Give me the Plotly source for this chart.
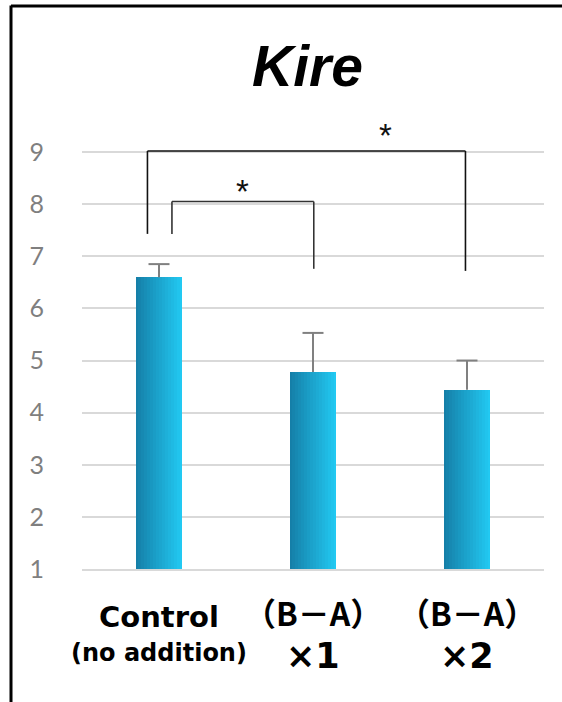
import plotly.graph_objects as go

# ---- data ----
categories = [0, 1, 2]
label_top = ["Control", "（B－A）", "（B－A）"]
label_bottom = ["(no addition)", "×1", "×2"]
values = [6.6, 4.78, 4.44]
errors = [0.25, 0.75, 0.56]
y_ticks = [1, 2, 3, 4, 5, 6, 7, 8, 9]
title_text = "Kire"
sig_marks = ["*", "*"]

# ---- style ----
W, H = 562, 702
ML, MR, MT, MB = 82, 18, 126, 133
Y0, Y1 = 1, 9.5
BAR_W = 0.305
N_SLICES = 16
c_left = (0x15, 0x7f, 0xa8)
c_right = (0x22, 0xc9, 0xf2)
ERR_COLOR = "#808080"

def mix(t):
    r = [round(a + (b - a) * t) for a, b in zip(c_left, c_right)]
    return "rgb(%d,%d,%d)" % tuple(r)

fig = go.Figure()

# gradient bars: overlapping slices drawn left to right
for i in range(N_SLICES):
    off = -BAR_W / 2 + i * BAR_W / N_SLICES
    fig.add_trace(go.Bar(
        x=categories, y=values,
        width=[BAR_W - i * BAR_W / N_SLICES] * len(categories),
        offset=[off] * len(categories),
        marker=dict(color=mix(i / (N_SLICES - 1)), line=dict(width=0)),
        showlegend=False, hoverinfo="skip",
    ))

# error bars: upper stem only (no cap at the bar top)
fig.add_trace(go.Scatter(
    x=categories, y=values, mode="markers",
    marker=dict(size=1, opacity=0),
    error_y=dict(type="data", symmetric=False, array=errors,
                 arrayminus=[0] * len(errors), color=ERR_COLOR,
                 thickness=2, width=0),
    showlegend=False, hoverinfo="skip",
))
# caps at the top of each error bar
fig.add_trace(go.Scatter(
    x=categories, y=[v + e for v, e in zip(values, errors)], mode="markers",
    marker=dict(symbol="line-ew", size=15, line=dict(color=ERR_COLOR, width=2)),
    showlegend=False, hoverinfo="skip",
))

# significance brackets
def bracket(x_a, y_a, x_b, y_b, y_top, color="#111"):
    pts = [(x_a, y_a, x_a, y_top), (x_a, y_top, x_b, y_top), (x_b, y_top, x_b, y_b)]
    for x0, y0, x1, y1 in pts:
        fig.add_shape(type="line", xref="x", yref="y", x0=x0, y0=y0, x1=x1, y1=y1,
                      line=dict(color=color, width=1.6))

bracket(-0.075, 7.43, 1.99, 6.72, 9.02)
bracket(0.084, 7.43, 1.005, 6.76, 8.05, color="#333")

fig.add_annotation(x=1.47, y=9.32, xref="x", yref="y", text=sig_marks[0],
                   showarrow=False, font=dict(family="Liberation Sans", size=33, color="#111"))
fig.add_annotation(x=0.54, y=8.24, xref="x", yref="y", text=sig_marks[1],
                   showarrow=False, font=dict(family="Liberation Sans", size=33, color="#111"))

# category labels
ph = H - MT - MB
def py(px):
    return (H - MB - px) / ph

for i, c in enumerate(categories):
    if i == 0:
        fig.add_annotation(x=c, y=py(617), xref="x", yref="paper", text="<b>%s</b>" % label_top[i],
                           showarrow=False, yanchor="middle",
                           font=dict(family="DejaVu Sans", size=29, color="#000"))
        fig.add_annotation(x=c, y=py(653), xref="x", yref="paper", text="<b>%s</b>" % label_bottom[i],
                           showarrow=False, yanchor="middle",
                           font=dict(family="DejaVu Sans", size=24, color="#000"))
    else:
        fig.add_annotation(x=c, y=py(612), xref="x", yref="paper", text="<b>%s</b>" % label_top[i],
                           showarrow=False, yanchor="middle",
                           font=dict(family="Noto Sans CJK JP", size=32, color="#000"))
        fig.add_annotation(x=c, y=py(656), xref="x", yref="paper", text="<b>%s</b>" % label_bottom[i],
                           showarrow=False, yanchor="middle",
                           font=dict(family="DejaVu Sans", size=35, color="#000"))

# title
pw = W - ML - MR
fig.add_annotation(x=(307 - ML) / pw, y=py(66), xref="paper", yref="paper",
                   text="<b><i>%s</i></b>" % title_text, showarrow=False, yanchor="middle",
                   font=dict(family="Liberation Sans", size=57, color="#000"))

# frame lines (left and top)
fx = (11 - ML) / pw
fig.add_shape(type="line", xref="paper", yref="paper", x0=fx, x1=fx, y0=py(5.5), y1=py(702),
              line=dict(color="#000", width=3))
fig.add_shape(type="line", xref="paper", yref="paper", x0=fx, x1=(562 - ML) / pw + 0.01,
              y0=py(6), y1=py(6), line=dict(color="#000", width=3))

fig.update_layout(
    width=W, height=H,
    margin=dict(l=ML, r=MR, t=MT, b=MB, pad=0),
    paper_bgcolor="white", plot_bgcolor="white",
    barmode="overlay", bargap=0,
    xaxis=dict(range=[-0.5, 2.5], showticklabels=False, showgrid=False, zeroline=False,
               showline=True, linecolor="#d9d9d9", linewidth=1.5, fixedrange=True),
    yaxis=dict(range=[Y0, Y1], tickvals=y_ticks, showgrid=True, gridcolor="#d9d9d9",
               gridwidth=1.5, zeroline=False, showline=False,
               ticks="outside", ticklen=32, tickcolor="rgba(0,0,0,0)",
               tickfont=dict(family="Lato", size=25, color="#7f7f7f")),
    showlegend=False,
)

fig.write_html("out.html", config={"displayModeBar": False},
               post_script="document.body.style.margin='0';document.body.style.overflow='hidden';")
